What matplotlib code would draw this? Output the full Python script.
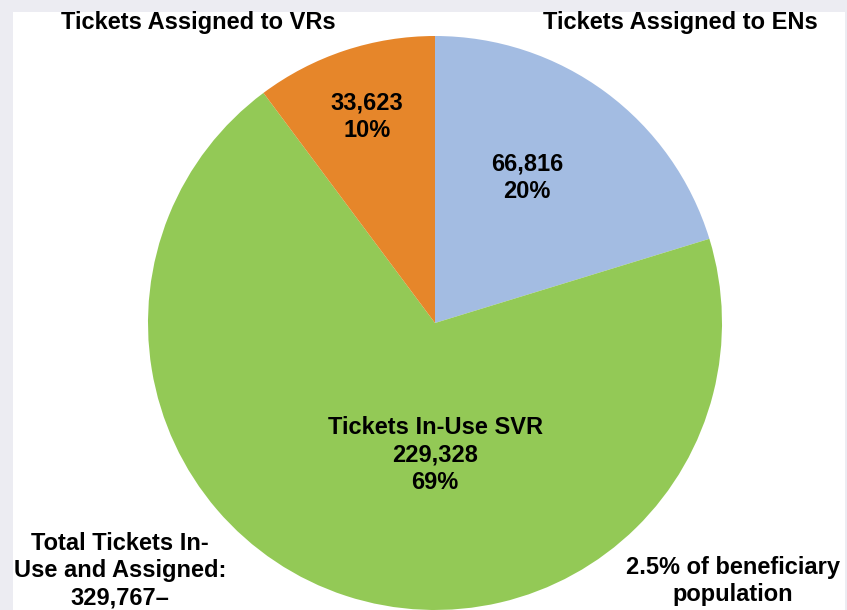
import matplotlib.pyplot as plt
from matplotlib.patches import Rectangle

plt.rcParams['font.family'] = ['Liberation Sans', 'DejaVu Sans']

# data
names = ['Tickets Assigned to ENs', 'Tickets In-Use SVR', 'Tickets Assigned to VRs']
tickets = [66816, 229328, 33623]
pcts = ['20%', '69%', '10%']
colors = ['#A3BCE2', '#93C956', '#E6862A']

W, H = 847, 610
fig = plt.figure(figsize=(W / 100, H / 100), dpi=100, facecolor='#ECECF2')
fig.patches.append(Rectangle((13 / W, 0), (845 - 13) / W, (H - 12) / H,
                             transform=fig.transFigure, facecolor='white',
                             edgecolor='none', zorder=-5))

cx, cy, r = 435, 323, 287
ax = fig.add_axes([(cx - r) / W, (H - cy - r) / H, 2 * r / W, 2 * r / H])
ax.set_facecolor('none')
ax.pie(tickets, colors=colors, startangle=90, counterclock=False,
       radius=1, wedgeprops=dict(linewidth=0))
ax.set_xlim(-1, 1)
ax.set_ylim(-1, 1)
ax.set_aspect('equal')
ax.axis('off')

kw = dict(ha='center', va='center', fontsize=17, fontweight='bold',
          linespacing=1.25, color='black')

# slice labels
ax.text(0.32, 0.505, f'{tickets[0]:,}\n{pcts[0]}', **kw)
ax.text(0.0, -0.46, f'{names[1]}\n{tickets[1]:,}\n{pcts[1]}', **kw)
ax.text(-0.237, 0.72, f'{tickets[2]:,}\n{pcts[2]}', **kw)

# outer labels
fig.text(198 / W, 1 - 22 / H, names[2], **kw)
fig.text(680 / W, 1 - 22 / H, names[0], **kw)
fig.text(120 / W, 1 - 571 / H,
         f'Total Tickets In-\nUse and Assigned:\n{sum(tickets):,}\u2013', **kw)
fig.text(733 / W, 1 - 581 / H, '2.5% of beneficiary\npopulation', **kw)

fig.savefig('out.png', dpi=100, facecolor=fig.get_facecolor())
